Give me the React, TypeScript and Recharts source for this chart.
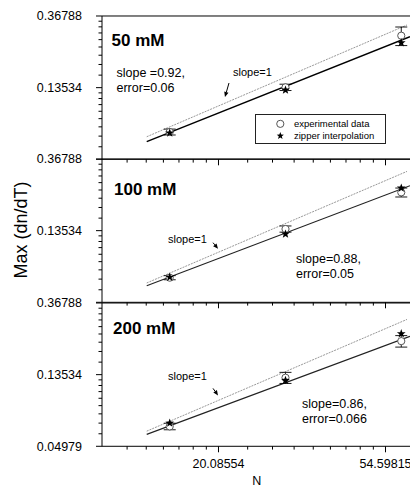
import React from "react";
import { ComposedChart, Line, Scatter, XAxis, YAxis, ErrorBar, ReferenceLine, Legend } from "recharts";

const E = Math.E;

// N values of the measured points
const nValues = [15, 30, 60];

// axis majors (natural-log axes)
const xMajor = [E ** 3, E ** 4];
const yMajor = [E ** -3, E ** -2, E ** -1];

// 50 mM
const exp50 = [0.0729, 0.136, 0.2795];
const exp50Err = [0.003, 0.006, 0.036];
const zip50 = [0.0719, 0.131, 0.2534];
// 100 mM
const exp100 = [0.0702, 0.1385, 0.2309];
const exp100Err = [0.002, 0.006, 0.0144];
const zip100 = [0.0707, 0.1291, 0.2454];
// 200 mM
const exp200 = [0.0657, 0.1297, 0.2161];
const exp200Err = [0.003, 0.01, 0.0173];
const zip200 = [0.0688, 0.1249, 0.2397];

// fitted power-law lines (end points) and the slope=1 guide lines
const fitX = [13.07, 63.2];
const fit50 = [0.0637, 0.2755];
const fit100 = [0.0628, 0.2535];
const fit200 = [0.0588, 0.2309];
const guideX = [13.07, 62.1];
const guide50 = [0.0682, 0.3245];
const guide100 = [0.0652, 0.3095];
const guide200 = [0.0615, 0.2926];

// "slope=1" arrows (start -> tip) in data units
const arrow50 = [{ x: 21.39, y: 0.1444 }, { x: 20.88, y: 0.1188 }];
const arrow100 = [{ x: 19.44, y: 0.1144 }, { x: 20.03, y: 0.1052 }];
const arrow200 = [{ x: 19.44, y: 0.1117 }, { x: 20.03, y: 0.1013 }];

const seriesNames = ["experimental data", "zipper interpolation"];

const minors = (a: number, b: number) => Array.from({ length: 8 }, (_, k) => a + ((b - a) * (k + 1)) / 9);
const xTicks = [...minors(E ** 2, E ** 3).filter((v) => v > 11), E ** 3, ...minors(E ** 3, E ** 4), E ** 4];
const yTicks = [E ** -3, ...minors(E ** -3, E ** -2), E ** -2, ...minors(E ** -2, E ** -1), E ** -1];

const points = (ys: number[], errs?: number[]) =>
  nValues.map((x, i) => (errs ? { x, y: ys[i], err: errs[i] } : { x, y: ys[i] }));
const segment = (xs: number[], ys: number[]) => xs.map((x, i) => ({ x, y: ys[i] }));

const near = (v: number, list: number[]) => list.some((m) => Math.abs(m - v) < 1e-9);

function XTick(props: any) {
  const { x, y, payload, showLabel } = props;
  const major = near(payload.value, xMajor);
  return (
    <g>
      <line x1={x} x2={x} y1={y} y2={y + (major ? 6 : 3.3)} stroke="#000" strokeWidth={1} />
      {major && showLabel && (
        <text x={x} y={y + 21.3} textAnchor="middle" fontSize={12.5} fill="#000">
          {payload.value.toFixed(5)}
        </text>
      )}
    </g>
  );
}

function YTick(props: any) {
  const { x, y, payload, labels } = props;
  const v = payload.value;
  const major = near(v, yMajor);
  return (
    <g>
      <line x1={x - (major ? 6 : 3.5)} x2={x} y1={y} y2={y} stroke="#000" strokeWidth={1} />
      {major && near(v, labels) && (
        <text x={x - 20} y={y + 4.5} textAnchor="end" fontSize={12.5} fill="#000">
          {v.toFixed(5)}
        </text>
      )}
    </g>
  );
}

function OpenCircle(props: any) {
  const { cx, cy } = props;
  if (cx == null || cy == null) return null;
  return <circle cx={cx} cy={cy} r={3.6} fill="#fff" stroke="#555" strokeWidth={1} />;
}

function starPath(cx: number, cy: number, ro: number, ri: number) {
  let d = "";
  for (let k = 0; k < 10; k++) {
    const r = k % 2 === 0 ? ro : ri;
    const a = -Math.PI / 2 + (k * Math.PI) / 5;
    d += (k === 0 ? "M" : "L") + (cx + r * Math.cos(a)).toFixed(2) + "," + (cy + r * Math.sin(a)).toFixed(2);
  }
  return d + "Z";
}

function Star(props: any) {
  const { cx, cy } = props;
  if (cx == null || cy == null) return null;
  return <path d={starPath(cx, cy, 4.6, 1.9)} fill="#000" />;
}

function Arrow(props: any) {
  const { x1, y1, x2, y2 } = props;
  const a = Math.atan2(y2 - y1, x2 - x1);
  const L = 5;
  const W = 2.2;
  const bx = x2 - L * Math.cos(a);
  const by = y2 - L * Math.sin(a);
  const pts = `${x2},${y2} ${bx + W * Math.sin(a)},${by - W * Math.cos(a)} ${bx - W * Math.sin(a)},${by + W * Math.cos(a)}`;
  return (
    <g>
      <line x1={x1} y1={y1} x2={bx} y2={by} stroke="#000" strokeWidth={1} />
      <polygon points={pts} fill="#000" />
    </g>
  );
}

function LegendBox(props: any) {
  const items = (props.payload || []).filter((e: any) => seriesNames.includes(e.value));
  return (
    <div
      style={{
        width: 131,
        height: 30,
        boxSizing: "border-box",
        border: "1px solid #222",
        background: "#fff",
        paddingTop: 3,
        fontSize: 9.5,
        color: "#000",
      }}
    >
      {items.map((entry: any, i: number) => (
        <div key={i} style={{ display: "flex", alignItems: "center", height: 11.7 }}>
          <svg width={38} height={11.7} style={{ flex: "none" }}>
            {entry.value === seriesNames[0] ? (
              <OpenCircle cx={24.3} cy={5.85} />
            ) : (
              <path d={starPath(24.3, 5.85, 3.8, 1.6)} fill="#000" />
            )}
          </svg>
          <span>{entry.value}</span>
        </div>
      ))}
    </div>
  );
}

const PLOT_H = 143.3;

type PanelProps = {
  top: number;
  marginTop: number;
  xAxisHeight: number;
  exp: any[];
  zip: any[];
  fit: any[];
  guide: any[];
  arrow: any[];
  yLabels: number[];
  showXLabels: boolean;
  legend?: boolean;
  fitWidth: number;
  fitColor: string;
};

function Panel(p: PanelProps) {
  return (
    <div style={{ position: "absolute", left: 0, top: p.top }}>
      <ComposedChart
        width={440}
        height={p.marginTop + PLOT_H + p.xAxisHeight}
        margin={{ top: p.marginTop, right: 20.3, bottom: 0, left: 0 }}
      >
        <XAxis
          type="number"
          dataKey="x"
          scale="log"
          domain={[10, 67]}
          ticks={xTicks}
          interval={0}
          tick={<XTick showLabel={p.showXLabels} />}
          tickLine={false}
          tickSize={0}
          tickMargin={0}
          height={p.xAxisHeight}
          allowDataOverflow
          stroke="#000"
        />
        <YAxis
          type="number"
          dataKey="y"
          scale="log"
          domain={[E ** -3, E ** -1]}
          ticks={yTicks}
          interval={0}
          tick={<YTick labels={p.yLabels} />}
          tickLine={false}
          tickSize={0}
          tickMargin={0}
          width={102}
          allowDataOverflow
          stroke="#000"
        />
        <ReferenceLine y={E ** -1} stroke="#000" strokeWidth={1} />
        <Line
          data={p.guide}
          dataKey="y"
          stroke="#8c8c8c"
          strokeWidth={0.9}
          strokeDasharray="2 1"
          dot={false}
          legendType="none"
          isAnimationActive={false}
        />
        <Line
          data={p.fit}
          dataKey="y"
          stroke={p.fitColor}
          strokeWidth={p.fitWidth}
          dot={false}
          legendType="none"
          isAnimationActive={false}
        />
        <Scatter name={seriesNames[0]} data={p.exp} shape={(s: any) => <OpenCircle {...s} />} isAnimationActive={false}>
          <ErrorBar dataKey="err" direction="y" width={6} stroke="#000" strokeWidth={0.9} />
        </Scatter>
        <Scatter name={seriesNames[1]} data={p.zip} shape={(s: any) => <Star {...s} />} isAnimationActive={false} />
        <ReferenceLine segment={p.arrow as any} shape={(s: any) => <Arrow {...s} />} />
        {p.legend && (
          <Legend
            layout="vertical"
            align="center"
            verticalAlign="middle"
            content={(lp: any) => <LegendBox {...lp} />}
            wrapperStyle={{ left: 255, top: 114, width: 131, height: 30 }}
          />
        )}
      </ComposedChart>
    </div>
  );
}

const notes = [
  { x: 111.5, y: 45.7, t: "50 mM", big: true },
  { x: 116.5, y: 77.3, t: "slope =0.92," },
  { x: 116.5, y: 91.8, t: "error=0.06" },
  { x: 233, y: 76, t: "slope=1", small: true },
  { x: 114, y: 195.3, t: "100 mM", big: true },
  { x: 168, y: 243, t: "slope=1", small: true },
  { x: 296, y: 262.5, t: "slope=0.88," },
  { x: 296, y: 277.5, t: "error=0.05" },
  { x: 113, y: 333.5, t: "200 mM", big: true },
  { x: 168, y: 380, t: "slope=1", small: true },
  { x: 302, y: 407.5, t: "slope=0.86," },
  { x: 302, y: 422.5, t: "error=0.066" },
];

export default function App() {
  return (
    <div
      style={{
        position: "absolute",
        left: 0,
        top: 0,
        width: 410,
        height: 488,
        overflow: "hidden",
        background: "#fff",
        fontFamily: "'Liberation Sans', Arial, sans-serif",
      }}
    >
      <Panel
        top={0}
        marginTop={16}
        xAxisHeight={8}
        exp={points(exp50, exp50Err)}
        zip={points(zip50)}
        fit={segment(fitX, fit50)}
        guide={segment(guideX, guide50)}
        arrow={arrow50}
        yLabels={[E ** -1, E ** -2]}
        showXLabels={false}
        legend
        fitWidth={1.5}
        fitColor="#000"
      />
      <Panel
        top={149.3}
        marginTop={10}
        xAxisHeight={8}
        exp={points(exp100, exp100Err)}
        zip={points(zip100)}
        fit={segment(fitX, fit100)}
        guide={segment(guideX, guide100)}
        arrow={arrow100}
        yLabels={[E ** -1, E ** -2]}
        showXLabels={false}
        fitWidth={1.1}
        fitColor="#222"
      />
      <Panel
        top={292.6}
        marginTop={10}
        xAxisHeight={42.1}
        exp={points(exp200, exp200Err)}
        zip={points(zip200)}
        fit={segment(fitX, fit200)}
        guide={segment(guideX, guide200)}
        arrow={arrow200}
        yLabels={yMajor}
        showXLabels
        fitWidth={1.1}
        fitColor="#222"
      />
      <svg width={410} height={488} style={{ position: "absolute", left: 0, top: 0, pointerEvents: "none" }}>
        {notes.map((n, i) => (
          <text
            key={i}
            x={n.x}
            y={n.y}
            fontSize={n.big ? 17 : n.small ? 11 : 12.5}
            fontWeight={n.big ? "bold" : "normal"}
            fill="#000"
          >
            {n.t}
          </text>
        ))}
        <text x={27} y={230} fontSize={18} textAnchor="middle" transform="rotate(-90 27 230)" fill="#000">
          Max (dn/dT)
        </text>
        <text x={256.7} y={485} fontSize={12.5} textAnchor="middle" fill="#000">
          N
        </text>
      </svg>
    </div>
  );
}
